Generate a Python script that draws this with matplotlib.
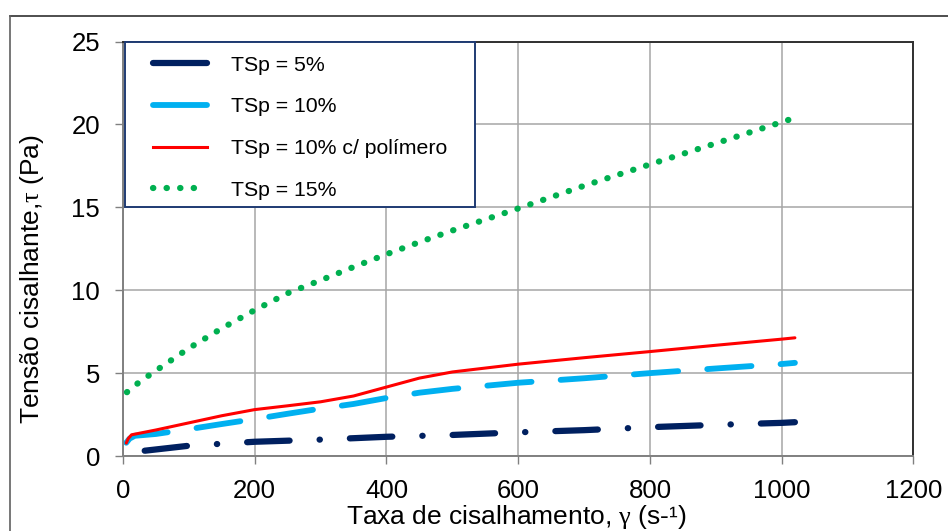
import matplotlib
matplotlib.use("Agg")
import matplotlib.pyplot as plt
from matplotlib.lines import Line2D
from matplotlib.patches import Rectangle

plt.rcParams['font.family'] = ['Liberation Sans', 'DejaVu Sans']
plt.rcParams['mathtext.fontset'] = 'custom'
plt.rcParams['mathtext.rm'] = 'Liberation Serif'
plt.rcParams['mathtext.it'] = 'Liberation Serif:italic'

# Shear rate (s^-1) and shear stress (Pa) for each suspension
taxa_5 = [33, 100, 200, 300, 400, 500, 600, 700, 800, 900, 1000, 1020]
tensao_5 = [0.32, 0.62, 0.86, 0.99, 1.16, 1.27, 1.43, 1.56, 1.74, 1.88, 2.00, 2.04]

taxa_10 = [5, 10, 18, 50, 100, 150, 200, 250, 300, 350, 400, 450, 500, 600, 700, 800, 900, 1000, 1020]
tensao_10 = [0.80, 1.05, 1.22, 1.33, 1.62, 1.93, 2.23, 2.55, 2.86, 3.14, 3.50, 3.82, 4.05, 4.42, 4.69, 5.00, 5.28, 5.55, 5.62]

taxa_10p = [5, 8, 13, 50, 100, 150, 200, 250, 300, 350, 400, 450, 500, 600, 700, 800, 900, 1000, 1020]
tensao_10p = [0.78, 1.05, 1.28, 1.57, 2.00, 2.43, 2.80, 3.03, 3.27, 3.62, 4.16, 4.70, 5.07, 5.54, 5.93, 6.30, 6.68, 7.05, 7.13]

taxa_15 = [6, 10, 25, 50, 100, 150, 200, 250, 300, 350, 400, 450, 500, 600, 700, 800, 900, 1000, 1020]
tensao_15 = [3.85, 3.97, 4.47, 5.15, 6.50, 7.70, 8.80, 9.82, 10.60, 11.40, 12.17, 12.90, 13.60, 14.93, 16.30, 17.59, 18.86, 20.14, 20.40]

labels = ['TSp = 5%', 'TSp = 10%', 'TSp = 10% c/ polímero', 'TSp = 15%']
colors = ['#002060', '#00B0F0', '#FF0000', '#00B050']

x_ticks = [0, 200, 400, 600, 800, 1000, 1200]
y_ticks = [0, 5, 10, 15, 20, 25]

fig = plt.figure(figsize=(9.48, 5.31), dpi=100)
ax = fig.add_axes([0.1297, 0.1412, 0.8339, 0.7806])

ax.plot(taxa_5, tensao_5, color=colors[0], lw=4.5, solid_capstyle='round',
        dash_capstyle='round', dashes=(6.8, 4.8, 0.05, 4.8), zorder=2)
ax.plot(taxa_10, tensao_10, color=colors[1], lw=4.2, dash_capstyle='round',
        dashes=(7.6, 5.0), zorder=2.1)
ax.plot(taxa_10p, tensao_10p, color=colors[2], lw=2.2, solid_capstyle='round',
        zorder=2.2)
ax.plot(taxa_15, tensao_15, color=colors[3], lw=4.5, dash_capstyle='round',
        dashes=(0.05, 2.12), zorder=2.3)

ax.set_xlim(0, 1200)
ax.set_ylim(0, 25)
ax.set_xticks(x_ticks)
ax.set_yticks(y_ticks)
ax.tick_params(axis='both', labelsize=18.5, direction='out', length=6,
               width=1.0, color='#808080', pad=10.5)
ax.grid(True, color='#A6A6A6', lw=1.1)
ax.set_axisbelow(True)
for side in ['left', 'bottom']:
    ax.spines[side].set_color('#808080')
    ax.spines[side].set_linewidth(1.4)
for side in ['top', 'right']:
    ax.spines[side].set_color('#303030')
    ax.spines[side].set_linewidth(1.4)

# legend box
ax.add_patch(Rectangle((0.0025, 0.6), 0.443, 0.4, transform=ax.transAxes,
                       facecolor='white', edgecolor='#1F3B73', lw=1.4,
                       zorder=4, clip_on=False))
handles = [
    Line2D([], [], color=colors[0], lw=4.5, solid_capstyle='round'),
    Line2D([], [], color=colors[1], lw=4.2, solid_capstyle='round'),
    Line2D([], [], color=colors[2], lw=2.2),
    Line2D([], [], color=colors[3], lw=4.5, dash_capstyle='round',
           dashes=(0.05, 2.12)),
]
ax.legend(handles, labels, loc='upper left', bbox_to_anchor=(0.038, 0.966),
          frameon=False, fontsize=15.3, handlelength=2.55, handletextpad=1.1,
          labelspacing=1.07, borderpad=0, borderaxespad=0)

fig.text(32 / 948, 1 - 279 / 531, r'Tensão cisalhante,$\mathrm{\tau}$ (Pa)',
         rotation=90, ha='center', va='center', fontsize=19)
fig.text(516.7 / 948, 1 - 524 / 531, r'Taxa de cisalhamento, $\mathrm{\gamma}$ (s-¹)',
         ha='center', va='baseline', fontsize=19)

# outer frame
fig.add_artist(Line2D([10 / 948, 1], [1 - 16 / 531, 1 - 16 / 531],
                      transform=fig.transFigure, color='#303030', lw=1.2))
fig.add_artist(Line2D([10 / 948, 10 / 948], [0, 1 - 16 / 531],
                      transform=fig.transFigure, color='#606060', lw=1.2))

fig.savefig('out.png', dpi=100)
